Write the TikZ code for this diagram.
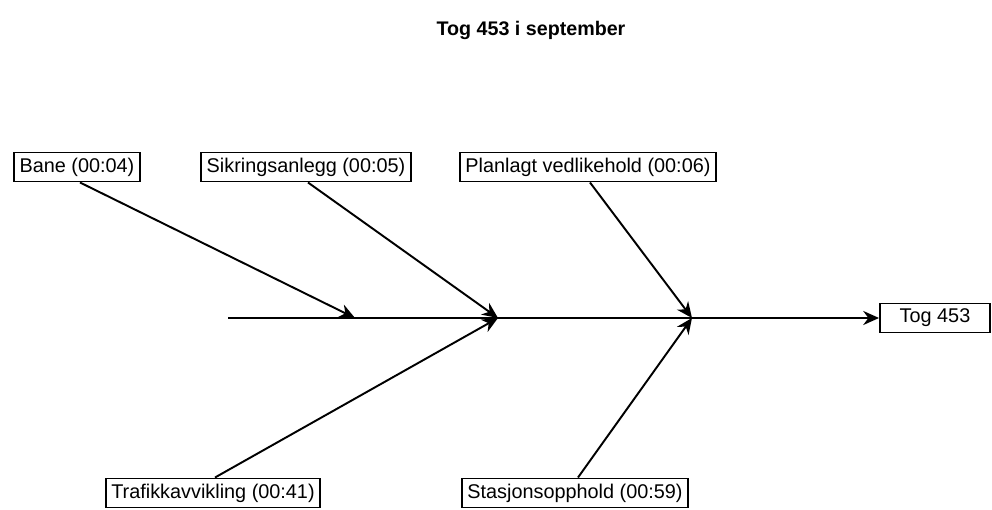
\documentclass[tikz,border=0pt]{standalone}
\usepackage{fontspec}
\setmainfont{Liberation Sans}
\usetikzlibrary{arrows.meta}
\tikzset{
  cause/.style={draw, line width=1.1pt, inner sep=3pt, minimum height=0.58cm, font=\fontsize{11.3}{13}\selectfont},
  bone/.style={line width=1.1pt, -{Stealth[length=9pt,width=8pt]}}
}
\begin{document}
\begin{tikzpicture}[x=0.02cm, y=-0.02cm]
	\useasboundingbox (0,0) rectangle (992,510);

	\node at (531,30) {\fontsize{11.2}{13}\selectfont\bfseries Tog 453 i september};

	\node[cause] (bane) at (77,167) {Bane (00:04)};
	\node[cause] (sikring) at (306,167) {Sikringsanlegg (00:05)};
	\node[cause] (planlagt) at (588,167) {Planlagt vedlikehold (00:06)};
	\node[cause] (trafikk) at (213,493) {Trafikkavvikling (00:41)};
	\node[cause] (stasjon) at (575,493) {Stasjonsopphold (00:59)};
	\node[cause, minimum width=2.2cm] (tog) at (935,318) {Tog 453};

	\coordinate (start) at (228,318);
	\coordinate (j1) at (355,318);
	\coordinate (j2) at (498,318);
	\coordinate (j3) at (692,318);

	\draw[bone] (start) -- (tog.west);
	\draw[bone] (bane.south) ++(3,0) -- (j1);
	\draw[bone] (sikring.south) ++(2,0) -- (j2);
	\draw[bone] (planlagt.south) ++(2,0) -- (j3);
	\draw[bone] (trafikk.north) ++(2,0) -- (j2);
	\draw[bone] (stasjon.north) ++(3,0) -- (j3);
\end{tikzpicture}
\end{document}
